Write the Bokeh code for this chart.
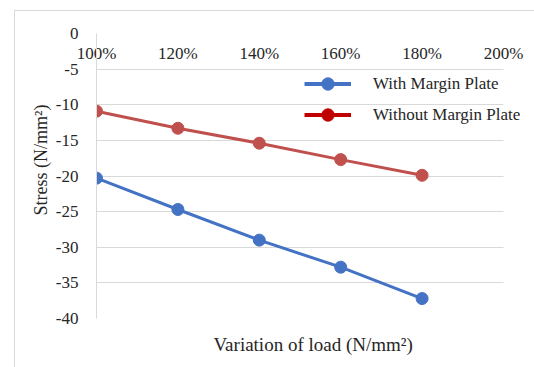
from bokeh.plotting import figure
from bokeh.models import FixedTicker, Legend, LegendItem, Title, Range1d
from bokeh.embed import file_html
from bokeh.resources import INLINE

load_pct = [100, 120, 140, 160, 180]
with_margin = [-20.3, -24.7, -29.0, -32.8, -37.2]
without_margin = [-10.9, -13.3, -15.4, -17.7, -19.9]
x_ticks = [100, 120, 140, 160, 180, 200]
x_tick_labels = ["100%", "120%", "140%", "160%", "180%", "200%"]
y_ticks = [0, -5, -10, -15, -20, -25, -30, -35, -40]
y_tick_labels = ["0", "-5", "-10", "-15", "-20", "-25", "-30", "-35", "-40"]

FONT = "Liberation Serif"
BLUE = "#4472C4"
RED = "#C0504D"
RED_LEG = "#C00000"
GRID = "#d9d9d9"
TXT = "#262626"

X_END = 100 + 439 / 4.07  # frame runs to the window edge so the legend is not clipped

p = figure(width=520, height=357, output_backend="svg", toolbar_location=None,
           x_range=Range1d(100, X_END), y_range=Range1d(-40, 0),
           x_axis_location="above",
           min_border_left=81, min_border_right=0, min_border_top=22, min_border_bottom=49,
           margin=(10, 0, 0, 14))
p.styles = {"border-top": "1px solid #d9d9d9", "border-left": "1px solid #d9d9d9"}
p.outline_line_color = None
p.background_fill_color = "white"
p.border_fill_color = "white"

# grid
p.xgrid.visible = False
p.ygrid.ticker = FixedTicker(ticks=y_ticks)
p.ygrid.grid_line_color = GRID
p.ygrid.grid_line_width = 1
try:
    p.ygrid.cross_bounds = (100, 200)
except Exception:
    pass

# x axis at y = 0, labels drawn just below the zero line
xa = p.xaxis[0]
xa.ticker = FixedTicker(ticks=x_ticks)
xa.major_label_overrides = {t: l for t, l in zip(x_ticks, x_tick_labels)}
xa.axis_line_color = None
xa.major_tick_line_color = None
xa.minor_tick_line_color = None
xa.major_label_standoff = -35
xa.major_label_text_font = FONT
xa.major_label_text_font_size = "17px"
xa.major_label_text_color = TXT

ya = p.yaxis[0]
ya.ticker = FixedTicker(ticks=y_ticks)
ya.major_label_overrides = {t: l for t, l in zip(y_ticks, y_tick_labels)}
ya.axis_line_color = GRID
ya.major_tick_line_color = None
ya.minor_tick_line_color = None
ya.major_label_standoff = 12
ya.major_label_text_font = FONT
ya.major_label_text_font_size = "17px"
ya.major_label_text_color = TXT

# titles
p.add_layout(Title(text="Stress (N/mm²)", align="left", offset=103, standoff=3,
                   text_font=FONT, text_font_size="18px", text_font_style="normal",
                   text_color=TXT), "left")
p.add_layout(Title(text="Variation of load (N/mm²)", align="left", offset=117, standoff=27,
                   text_font=FONT, text_font_size="19px", text_font_style="normal",
                   text_color=TXT), "below")

# series
p.line(load_pct, without_margin, line_color=RED, line_width=3)
p.scatter(load_pct, without_margin, size=12, fill_color=RED, line_color=RED)
p.line(load_pct, with_margin, line_color=BLUE, line_width=3)
p.scatter(load_pct, with_margin, size=12, fill_color=BLUE, line_color=BLUE)

# legend proxies (not drawn in the plot area)
nan = [float("nan")]
lb = p.line(nan, nan, line_color=BLUE, line_width=4)
sb = p.scatter(nan, nan, size=13, fill_color=BLUE, line_color=BLUE)
lr = p.line(nan, nan, line_color=RED_LEG, line_width=4)
sr = p.scatter(nan, nan, size=13, fill_color=RED_LEG, line_color=RED_LEG)

legend = Legend(items=[LegendItem(label="With Margin Plate", renderers=[lb, sb]),
                       LegendItem(label="Without Margin Plate", renderers=[lr, sr])],
                location=(208, 188), orientation="vertical",
                glyph_width=47, glyph_height=31, spacing=0, label_standoff=22,
                padding=0, margin=0, border_line_color=None,
                background_fill_alpha=0,
                label_text_font=FONT, label_text_font_size="17px", label_text_color=TXT)
p.add_layout(legend)

open("out.html", "w").write(file_html(p, INLINE))
